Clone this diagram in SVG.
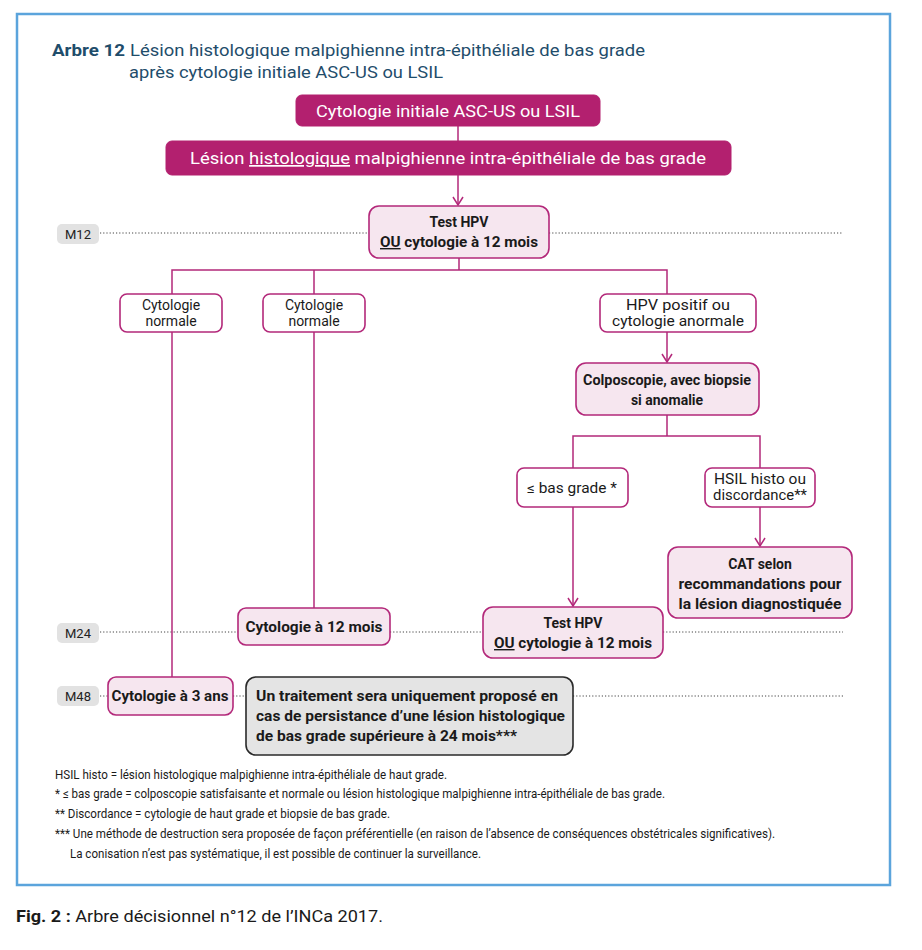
<svg xmlns="http://www.w3.org/2000/svg" width="922" height="950" viewBox="0 0 922 950">
<defs>
<style>
text{font-family:"Roboto","Liberation Sans",sans-serif;}
.frame{fill:#fff;stroke:#5ba4dc;stroke-width:2.5}
.title{fill:#1f4d6b;font-size:17px}
.dark{fill:#b3206f;stroke:#b3206f;stroke-width:1}
.wt{fill:#fff;font-size:17px;text-anchor:middle}
.lt{fill:#f6e6ef;stroke:#b3287a;stroke-width:1.6}
.wh{fill:#fff;stroke:#b3287a;stroke-width:1.6}
.gr{fill:#e4e4e4;stroke:#2a2a2a;stroke-width:1.6}
.b{font-weight:bold;font-size:14px;fill:#1a1a1a;text-anchor:middle}
.bl{font-weight:bold;font-size:14px;fill:#1a1a1a;text-anchor:start}
.r{font-size:14px;fill:#1a1a1a;text-anchor:middle}
.m{fill:#e2e2e2}
.mt{font-size:13px;fill:#222;text-anchor:middle}
.dot{stroke:#444;stroke-width:1;stroke-dasharray:1.2 2;fill:none}
.con{stroke:#b3287a;stroke-width:1.5;fill:none}
.fn{font-size:13px;fill:#1a1a1a}
</style>
<marker id="arr" markerWidth="10" markerHeight="12" refX="9" refY="6" orient="auto" markerUnits="userSpaceOnUse" viewBox="0 0 10 12">
<path d="M1,1 L9,6 L1,11" fill="none" stroke="#b3287a" stroke-width="1.5"/>
</marker>
</defs>
<rect x="0" y="0" width="922" height="950" fill="#fff"/>
<rect class="frame" x="17" y="14" width="873" height="871"/>

<g id="title">
<text class="title" x="52" y="56"><tspan font-weight="bold" textLength="73" lengthAdjust="spacingAndGlyphs">Arbre 12</tspan><tspan x="130" textLength="515" lengthAdjust="spacingAndGlyphs">Lésion histologique malpighienne intra-épithéliale de bas grade</tspan></text>
<text class="title" x="129" y="78" textLength="314" lengthAdjust="spacingAndGlyphs">après cytologie initiale ASC-US ou LSIL</text>
</g>

<g id="timeline">
<rect class="m" x="57" y="224" width="42" height="20" rx="5"/>
<text class="mt" x="78" y="239">M12</text>
<rect class="m" x="57" y="623" width="42" height="20" rx="5"/>
<text class="mt" x="78" y="638">M24</text>
<rect class="m" x="57" y="686" width="42" height="20" rx="5"/>
<text class="mt" x="78" y="701">M48</text>
<path class="dot" d="M100,233 H369 M549,233 H843"/>
<path class="dot" d="M100,632 H238 M390,632 H483 M663,632 H843"/>
<path class="dot" d="M100,696 H108 M233,696 H246 M573,696 H843"/>
</g>

<g id="connectors">
<path class="con" d="M458,126 V141"/>
<path class="con" d="M458,175 V205" marker-end="url(#arr)"/>
<path class="con" d="M459,258 V270 M172,294 V270 H667 V294 M314,270 V294"/>
<path class="con" d="M172,332 V677"/>
<path class="con" d="M314,332 V608"/>
<path class="con" d="M667,332 V362" marker-end="url(#arr)"/>
<path class="con" d="M667,415 V436 M573,468 V436 H760 V468"/>
<path class="con" d="M760,507 V546" marker-end="url(#arr)"/>
<path class="con" d="M573,507 V606" marker-end="url(#arr)"/>
</g>

<g id="n-cyto-init">
<rect class="dark" x="296" y="95" width="304" height="31" rx="6"/>
<text class="wt" x="448" y="117" textLength="264" lengthAdjust="spacingAndGlyphs">Cytologie initiale ASC-US ou LSIL</text>
</g>
<g id="n-lesion">
<rect class="dark" x="166" y="141" width="565" height="34" rx="6"/>
<text class="wt" x="448" y="164" textLength="516" lengthAdjust="spacingAndGlyphs">Lésion <tspan text-decoration="underline">histologique</tspan> malpighienne intra-épithéliale de bas grade</text>
</g>
<g id="n-test1">
<rect class="lt" x="369" y="206" width="180" height="52" rx="10"/>
<text class="b" x="459" y="227">Test HPV</text>
<text class="b" x="459" y="247" textLength="158" lengthAdjust="spacingAndGlyphs"><tspan text-decoration="underline">OU</tspan> cytologie à 12 mois</text>
</g>
<g id="n-norm1">
<rect class="wh" x="120" y="294" width="102" height="38" rx="7"/>
<text class="r" x="171" y="310">Cytologie</text>
<text class="r" x="171" y="326">normale</text>
</g>
<g id="n-norm2">
<rect class="wh" x="263" y="294" width="102" height="38" rx="7"/>
<text class="r" x="314" y="310">Cytologie</text>
<text class="r" x="314" y="326">normale</text>
</g>
<g id="n-hpvpos">
<rect class="wh" x="600" y="294" width="156" height="38" rx="7"/>
<text class="r" x="678" y="310" textLength="104" lengthAdjust="spacingAndGlyphs">HPV positif ou</text>
<text class="r" x="678" y="326" textLength="132" lengthAdjust="spacingAndGlyphs">cytologie anormale</text>
</g>
<g id="n-colpo">
<rect class="lt" x="576" y="363" width="183" height="52" rx="10"/>
<text class="b" x="667" y="385" textLength="168" lengthAdjust="spacingAndGlyphs">Colposcopie, avec biopsie</text>
<text class="b" x="667" y="405">si anomalie</text>
</g>
<g id="n-basgrade">
<rect class="wh" x="517" y="468" width="111" height="39" rx="7"/>
<text class="r" x="572" y="493" textLength="90" lengthAdjust="spacingAndGlyphs">≤ bas grade *</text>
</g>
<g id="n-hsil">
<rect class="wh" x="705" y="468" width="110" height="39" rx="7"/>
<text class="r" x="760" y="484" textLength="92" lengthAdjust="spacingAndGlyphs">HSIL histo ou</text>
<text class="r" x="760" y="500" textLength="94" lengthAdjust="spacingAndGlyphs">discordance**</text>
</g>
<g id="n-cat">
<rect class="lt" x="668" y="547" width="184" height="71" rx="10"/>
<text class="b" x="760" y="569">CAT selon</text>
<text class="b" x="760" y="589" textLength="163" lengthAdjust="spacingAndGlyphs">recommandations pour</text>
<text class="b" x="760" y="609" textLength="163" lengthAdjust="spacingAndGlyphs">la lésion diagnostiquée</text>
</g>
<g id="n-cyto12">
<rect class="lt" x="238" y="608" width="152" height="37" rx="8"/>
<text class="b" x="314" y="632" textLength="137" lengthAdjust="spacingAndGlyphs">Cytologie à 12 mois</text>
</g>
<g id="n-test2">
<rect class="lt" x="483" y="607" width="180" height="51" rx="10"/>
<text class="b" x="573" y="628">Test HPV</text>
<text class="b" x="573" y="648" textLength="158" lengthAdjust="spacingAndGlyphs"><tspan text-decoration="underline">OU</tspan> cytologie à 12 mois</text>
</g>
<g id="n-cyto3">
<rect class="lt" x="108" y="677" width="125" height="38" rx="8"/>
<text class="b" x="170" y="701" textLength="117" lengthAdjust="spacingAndGlyphs">Cytologie à 3 ans</text>
</g>
<g id="n-traitement">
<rect class="gr" x="246" y="677" width="327" height="78" rx="10"/>
<text class="bl" x="256" y="701" textLength="302" lengthAdjust="spacingAndGlyphs">Un traitement sera uniquement proposé en</text>
<text class="bl" x="256" y="721" textLength="309" lengthAdjust="spacingAndGlyphs">cas de persistance d’une lésion histologique</text>
<text class="bl" x="256" y="741" textLength="261" lengthAdjust="spacingAndGlyphs">de bas grade supérieure à 24 mois***</text>
</g>

<g id="footnotes">
<text class="fn" x="55" y="779" textLength="392" lengthAdjust="spacingAndGlyphs">HSIL histo = lésion histologique malpighienne intra-épithéliale de haut grade.</text>
<text class="fn" x="55" y="798" textLength="610" lengthAdjust="spacingAndGlyphs">* ≤ bas grade = colposcopie satisfaisante et normale ou lésion histologique malpighienne intra-épithéliale de bas grade.</text>
<text class="fn" x="55" y="818" textLength="335" lengthAdjust="spacingAndGlyphs">** Discordance = cytologie de haut grade et biopsie de bas grade.</text>
<text class="fn" x="55" y="838" textLength="720" lengthAdjust="spacingAndGlyphs">*** Une méthode de destruction sera proposée de façon préférentielle (en raison de l’absence de conséquences obstétricales significatives).</text>
<text class="fn" x="70" y="858" textLength="411" lengthAdjust="spacingAndGlyphs">La conisation n’est pas systématique, il est possible de continuer la surveillance.</text>
</g>

<g id="caption">
<text x="16" y="922" font-size="16" fill="#1a1a1a" textLength="367" lengthAdjust="spacingAndGlyphs"><tspan font-weight="bold">Fig. 2 :</tspan> Arbre décisionnel n°12 de l’INCa 2017.</text>
</g>
</svg>
